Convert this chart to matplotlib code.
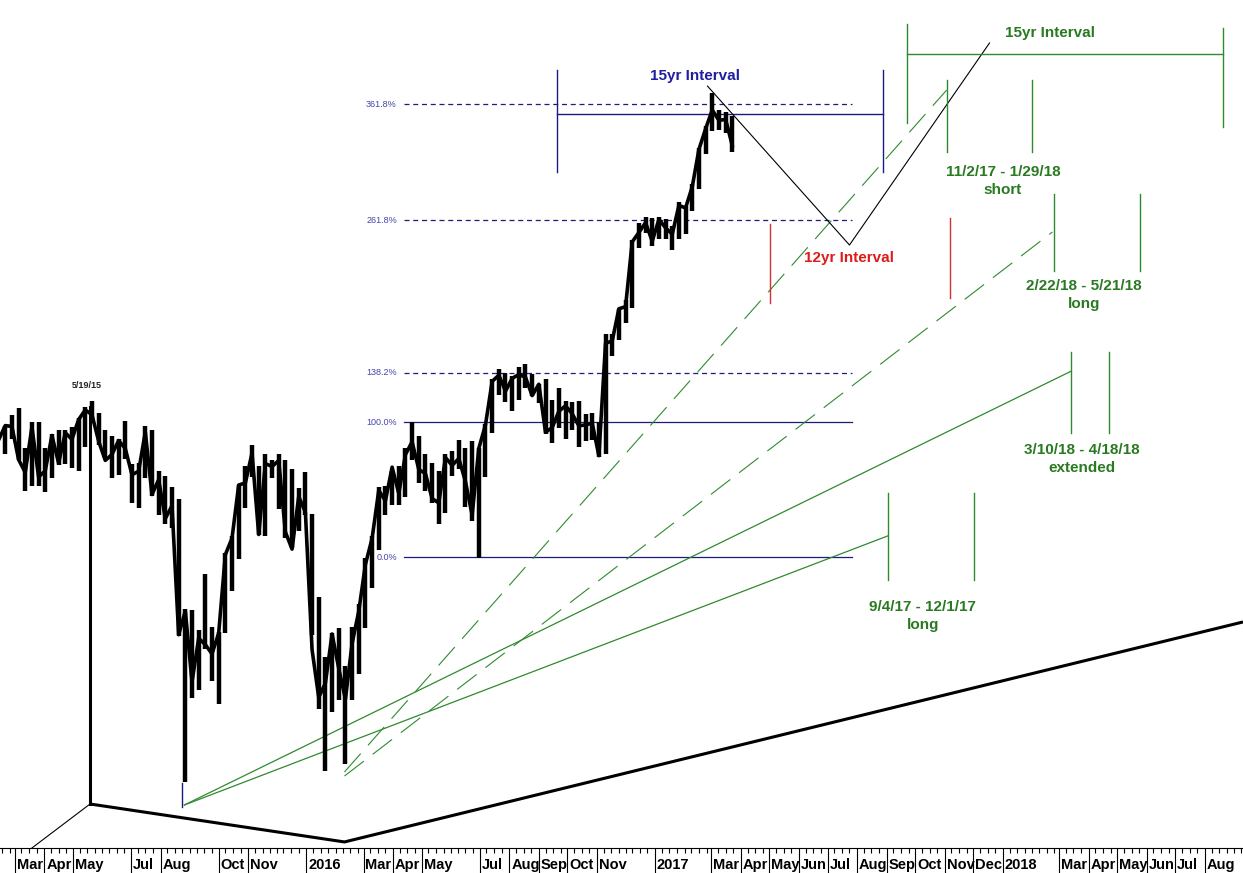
import numpy as np
import pandas as pd
import matplotlib
matplotlib.use("Agg")
import matplotlib.pyplot as plt
import matplotlib.dates as mdates
import matplotlib.ticker as mticker

plt.rcParams['font.family'] = ['Liberation Sans', 'DejaVu Sans']

# weekly DJIA ranges (weeks starting monday)
week_start = pd.date_range("2015-02-09", periods=111, freq="W-MON")
wk_high = [
    18060, 18140, 18230,
    18290, 17950, 18170, 18170, 17950,
    18070, 18100, 18100, 18130,
    18200, 18300, 18350, 18250,
    18100, 18050, 18030, 18180, 17820,
    17830, 18140, 18100, 17760,
    17720, 17630, 17530, 16660, 16650,
    16500, 16930, 16520, 16480,
    17100, 17230, 17650, 17800,
    17980, 17800, 17900, 17850, 17900,
    17850, 17780, 17620, 17750,
    # 2016
    17410, 16750, 16290, 16470,
    16510, 16220, 16520, 16700, 17060,
    17230, 17630, 17640, 17760,
    17800, 17950, 18170, 18050,
    17900, 17830, 17760, 17900, 17930,
    18020, 17950, 18010, 17950,
    18150, 18540, 18620, 18590,
    18560, 18640, 18670, 18580, 18490,
    18540, 18360, 18460, 18350,
    18340, 18350, 18240, 18250, 18170,
    18930, 18930, 19150, 19230,
    19770, 19930, 19990, 19980,
    # 2017
    19990, 19970, 19900, 20130, 20090,
    20300, 20640, 20850, 21170,
    21010, 20990, 20950,
]
wk_low = [
    17820, 17900, 18030,
    17850, 17600, 17640, 17640, 17590,
    17700, 17810, 17820, 17790,
    17760, 17960, 18160, 17980,
    17870, 17700, 17730, 17860, 17500,
    17460, 17700, 17560, 17400,
    17330, 17300, 16450, 15370, 15980,
    16040, 16350, 16110, 15940,
    16470, 16800, 17050, 17460,
    17710, 17240, 17230, 17700, 17450,
    17220, 17140, 17270, 17400,
    # 2016
    16460, 15900, 15450, 15880,
    15970, 15500, 15970, 16160, 16510,
    16820, 17120, 17400, 17480,
    17480, 17550, 17850, 17660,
    17600, 17500, 17330, 17420, 17720,
    17780, 17470, 17350, 17060,
    17710, 18080, 18400, 18340,
    18260, 18360, 18460, 18390, 18330,
    18070, 17990, 18120, 18030,
    18100, 17960, 18010, 18020, 17880,
    17900, 18740, 18880, 19030,
    19160, 19700, 19840, 19720,
    # 2017
    19780, 19780, 19680, 19780, 19830,
    20040, 20250, 20580, 20800,
    20810, 20780, 20600,
]
wk_close = [
    18019, 18140, 18133,
    17856, 17749, 18127, 17712, 17763,
    18057, 17826, 18080, 18024,
    18191, 18272, 18232, 18010,
    17849, 17898, 18015, 17947, 17730,
    17760, 18086, 17568, 17690,
    17373, 17477, 16460, 16643, 16102,
    16433, 16384, 16315, 16472,
    17084, 17215, 17646, 17663,
    17910, 17245, 17823, 17798, 17848,
    17265, 17128, 17552, 17425,
    # 2016
    16346, 15988, 16094, 16466,
    16205, 15974, 16392, 16640, 17007,
    17213, 17602, 17516, 17793,
    17577, 17897, 18004, 17774,
    17740, 17535, 17500, 17873, 17807,
    17865, 17675, 17400, 17949,
    18146, 18516, 18570, 18432,
    18543, 18576, 18552, 18395, 18492,
    18085, 18123, 18261, 18308,
    18240, 18138, 18146, 18161, 17888,
    18847, 18868, 19152, 19171,
    19757, 19843, 19934, 19763,
    # 2017
    19964, 19886, 19827, 20094, 20071,
    20269, 20624, 20822, 21006,
    20903, 20915, 20661,
]

# fibonacci levels from the june 2016 low to the april 2016 high
fib_low, fib_high = 17063, 18168
fib_ratios = [0.0, 1.0, 1.382, 2.618, 3.618]
fib_labels = ["0.0%", "100.0%", "138.2%", "261.8%", "361.8%"]
fib_span = ["2016-04-13", "2017-07-27"]

# month labels along the bottom (some months skipped like the original)
month_ticks = ["2015-03-01", "2015-04-01", "2015-05-01", "2015-07-01", "2015-08-01",
               "2015-10-01", "2015-11-01", "2016-01-01", "2016-03-01", "2016-04-01",
               "2016-05-01", "2016-07-01", "2016-08-01", "2016-09-01", "2016-10-01",
               "2016-11-01", "2017-01-01", "2017-03-01", "2017-04-01", "2017-05-01",
               "2017-06-01", "2017-07-01", "2017-08-01", "2017-09-01", "2017-10-01",
               "2017-11-01", "2017-12-01", "2018-01-01", "2018-03-01", "2018-04-01",
               "2018-05-01", "2018-06-01", "2018-07-01", "2018-08-01"]
month_names = ["Mar", "Apr", "May", "Jul", "Aug", "Oct", "Nov", "2016", "Mar", "Apr",
               "May", "Jul", "Aug", "Sep", "Oct", "Nov", "2017", "Mar", "Apr", "May",
               "Jun", "Jul", "Aug", "Sep", "Oct", "Nov", "Dec", "2018", "Mar", "Apr",
               "May", "Jun", "Jul", "Aug"]

# drawn annotations: (date, price) pairs
base_x = ["2015-05-19", "2016-02-10", "2018-09-10"]
base_y = [15215, 14949, 16558]
peak_day, peak_top = "2015-05-19", 18300
foot_x, foot_y = ["2015-05-19", "2015-03-19"], [15215, 14907]
crash_day, crash_y = "2015-08-24", [15364, 15195]

fan_solid_start = ("2015-08-26", 15208)
fan_solid_ends = [("2018-03-14", 18606), ("2017-09-02", 17233)]
fan_dash_starts = [("2016-02-10", 15443), ("2016-02-10", 15414)]
fan_dash_ends = [("2017-11-03", 21201), ("2018-02-22", 19848)]

blue_iv_days = ["2016-09-20", "2017-08-28"]
blue_iv_level, blue_iv_y = 20967, [21400, 20410]
zig_x = ["2017-02-25", "2017-07-24", "2017-12-18"]
zig_y = [21240, 19728, 21670]
red_days = ["2017-05-02", "2017-11-06"]
red_y = [[19921, 19203], [19977, 19248]]

green_iv_days = ["2017-09-22", "2018-08-20"]
green_iv_level = 21559
green_iv_y = [[21862, 20880], [21820, 20841]]
green_pairs = [
    (["2017-11-03", "2018-02-01"], [21305, 20600]),
    (["2018-02-24", "2018-05-25"], [20205, 19490]),
    (["2018-03-14", "2018-04-22"], [18771, 18078]),
    (["2017-09-02", "2017-12-02"], [17581, 16884]),
]
green_notes = [
    ("2018-01-01", 20409, "11/2/17 - 1/29/18"), ("2018-01-01", 20238, "short"),
    ("2018-03-27", 19356, "2/22/18 - 5/21/18"), ("2018-03-27", 19194, "long"),
    ("2018-03-25", 17935, "3/10/18 - 4/18/18"), ("2018-03-25", 17786, "extended"),
    ("2017-10-09", 16673, "9/4/17 - 12/1/17"), ("2017-10-09", 16535, "long"),
]

NAVY = "#1c1c80"
GREEN = "#2f8a2f"
GTEXT = "#2a7a22"
D = pd.Timestamp

fig = plt.figure(figsize=(12.43, 8.73), dpi=100)
ax = fig.add_axes([0, 25 / 873, 1, 848 / 873])
ax.set_yscale("log")
ax.set_xlim(D("2015-02-13 12:00"), D("2018-09-10"))
ax.set_ylim(14907, 22107)

# price: weekly range spikes plus a thick close line
mid = week_start + pd.Timedelta(days=3)
ax.vlines(mid, wk_low, wk_high, color="black", lw=3.2, zorder=3)
ax.plot(mid, wk_close, color="black", lw=2.6, zorder=3)

# 5/19/15 high with the thick base lines
ax.plot([D(peak_day), D(peak_day)], [peak_top, base_y[0]], color="black", lw=2.2, zorder=3)
ax.plot([D(d) for d in base_x], base_y, color="black", lw=2.2, solid_capstyle="butt")
ax.plot([D(d) for d in foot_x], foot_y, color="black", lw=0.8)
ax.plot([D(crash_day)] * 2, crash_y, color=NAVY, lw=1)
ax.text(D("2015-05-16"), 18478, "5/19/15", fontsize=6.5, fontweight="bold",
        ha="center", va="center", color="#222222")

# fibonacci lines
for r, lab in zip(fib_ratios, fib_labels):
    lvl = fib_low + r * (fib_high - fib_low)
    ls = "-" if r in (0.0, 1.0) else (0, (4, 3))
    ax.plot([D(fib_span[0]), D(fib_span[1])], [lvl, lvl], color=NAVY, lw=0.9, ls=ls)
    ax.text(D("2016-04-05"), lvl, lab, fontsize=6.5, color="#4545aa",
            ha="right", va="center")

# green fan lines
for end in fan_solid_ends:
    ax.plot([D(fan_solid_start[0]), D(end[0])], [fan_solid_start[1], end[1]],
            color=GREEN, lw=0.9)
for st, end in zip(fan_dash_starts, fan_dash_ends):
    ax.plot([D(st[0]), D(end[0])], [st[1], end[1]], color=GREEN, lw=0.8,
            ls=(0, (22, 10)))

# blue 15yr interval
ax.plot([D(blue_iv_days[0]), D(blue_iv_days[1])], [blue_iv_level] * 2, color=NAVY, lw=1)
for d in blue_iv_days:
    ax.plot([D(d)] * 2, blue_iv_y, color=NAVY, lw=1)
ax.text(D("2017-02-12"), 21339, "15yr Interval", fontsize=11, fontweight="bold",
        color="#1f1fa0", ha="center", va="center")

# projected path and 12yr interval
ax.plot([D(d) for d in zig_x], zig_y, color="black", lw=0.8)
for d, yy in zip(red_days, red_y):
    ax.plot([D(d)] * 2, yy, color="#d03030", lw=1)
ax.text(D("2017-07-23"), 19609, "12yr Interval", fontsize=11, fontweight="bold",
        color="#dd1c1c", ha="center", va="center")

# green 15yr interval
ax.plot([D(green_iv_days[0]), D(green_iv_days[1])], [green_iv_level] * 2, color=GREEN, lw=1)
for d, yy in zip(green_iv_days, green_iv_y):
    ax.plot([D(d)] * 2, yy, color=GREEN, lw=1)
ax.text(D("2018-02-19"), 21771, "15yr Interval", fontsize=11, fontweight="bold",
        color=GTEXT, ha="center", va="center")

for days, yy in green_pairs:
    for d in days:
        ax.plot([D(d)] * 2, yy, color=GREEN, lw=1)
for d, y, s in green_notes:
    ax.text(D(d), y, s, fontsize=11, fontweight="bold", color=GTEXT,
            ha="center", va="center")

# axis styling
for side in ("top", "left", "right"):
    ax.spines[side].set_visible(False)
ax.spines["bottom"].set_linewidth(0.8)
ax.tick_params(axis="y", which="both", left=False, labelleft=False)
tick_dates = [D(d) for d in month_ticks]
ax.xaxis.set_major_locator(mticker.FixedLocator(mdates.date2num(tick_dates)))
ax.xaxis.set_minor_locator(mdates.DayLocator(bymonthday=[1, 8, 16, 24]))
ax.tick_params(axis="x", which="major", length=18, width=0.8, direction="out",
               labelbottom=False)
ax.tick_params(axis="x", which="minor", length=3.8, width=0.8, direction="out")
for d, name in zip(tick_dates, month_names):
    ax.text(d + pd.Timedelta(days=2), -17 / 848, name, transform=ax.get_xaxis_transform(),
            fontsize=10.5, fontweight="bold", ha="left", va="center", clip_on=False)

fig.savefig("out.png", dpi=100)
